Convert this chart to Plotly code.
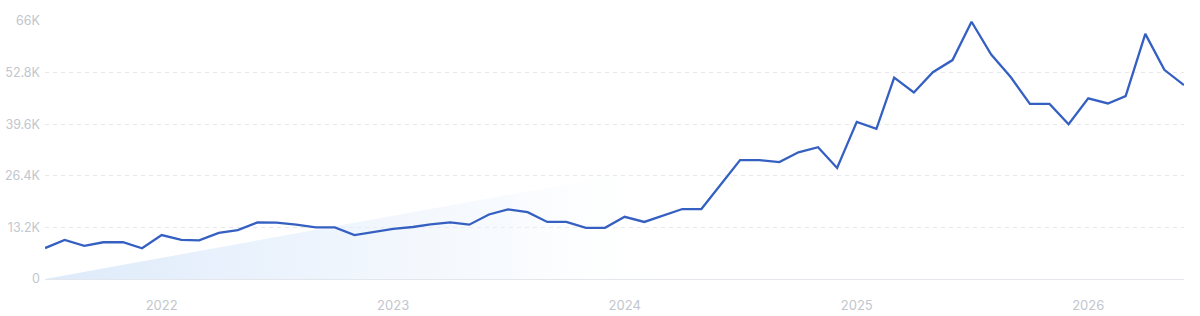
import plotly.graph_objects as go
import pandas as pd

# Monthly values, Jul 2021 .. Jun 2026
start_month = "2021-07-01"
values = [
    7900, 10000, 8500, 9400, 9400, 7850, 11250, 10000, 9900, 11800,
    12500, 14500, 14400, 13900, 13200, 13200, 11250, 12100, 12800, 13300,
    14000, 14500, 13900, 16500, 17800, 17100, 14600, 14600, 13100, 13100,
    15900, 14600, 16200, 17900, 17900, 24200, 30400, 30400, 29900, 32400,
    33700, 28400, 40200, 38400, 51500, 47700, 52900, 56000, 65800, 57400,
    51600, 44800, 44800, 39600, 46200, 44900, 46800, 62700, 53500, 49600,
]
dates = pd.date_range(start_month, periods=len(values), freq="MS")

# faded trend wedge (endpoints)
trend_values = [0, 52900]
trend_dates = [dates[0], dates[-1]]

y_tickvals = [0, 13200, 26400, 39600, 52800, 66000]
y_ticktext = ["0", "13.2K", "26.4K", "39.6K", "52.8K", "66K"]
x_tickvals = ["2022-01-01", "2023-01-01", "2024-01-01", "2025-01-01", "2026-01-01"]
x_ticktext = ["2022", "2023", "2024", "2025", "2026"]

fig = go.Figure()
fig.add_trace(go.Scatter(
    x=trend_dates, y=trend_values, mode="lines",
    line=dict(width=0), fill="tozeroy",
    fillgradient=dict(
        type="horizontal",
        colorscale=[[0, "rgba(218,232,250,0.9)"], [0.2, "rgba(224,236,251,0.65)"],
                    [0.4, "rgba(236,243,252,0.4)"], [0.55, "rgba(255,255,255,0)"],
                    [1, "rgba(255,255,255,0)"]],
    ),
    hoverinfo="skip", showlegend=False,
))
fig.add_trace(go.Scatter(
    x=dates, y=values, mode="lines",
    line=dict(color="#3560c2", width=2.3),
    showlegend=False,
))

fig.update_layout(
    width=1200, height=316,
    margin=dict(l=45, r=16, t=21, b=37),
    paper_bgcolor="white", plot_bgcolor="white",
    font=dict(family="Inter, Open Sans, sans-serif", color="#c2c6ce", size=12),
)
fig.update_xaxes(
    range=[dates[0], dates[-1]],
    tickvals=x_tickvals, ticktext=x_ticktext, automargin=False,
    showgrid=False, zeroline=False, showline=False,
    ticks="", ticklen=0, ticklabelstandoff=17,
    tickfont=dict(size=13, color="#c2c6ce"),
)
fig.update_yaxes(
    range=[0, 66000], automargin=False,
    tickvals=y_tickvals, ticktext=y_ticktext,
    showgrid=True, gridcolor="#e6e8ec", griddash="4px,4px", gridwidth=1,
    zeroline=True, zerolinecolor="#e3e6ea", zerolinewidth=1,
    showline=False, ticks="", ticklabelstandoff=4,
    tickfont=dict(size=12.5, color="#c2c6ce"),
)

fig.write_html("out.html")
